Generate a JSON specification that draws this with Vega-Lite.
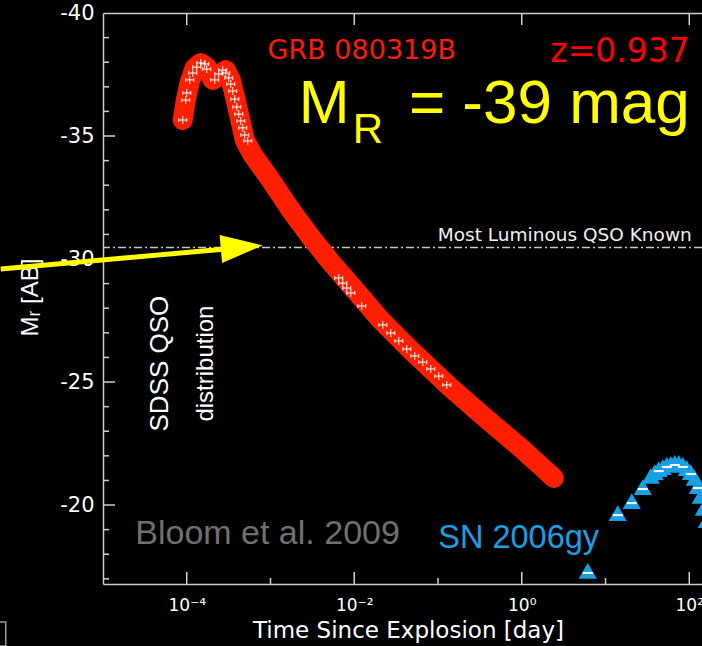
{
  "$schema": "https://vega.github.io/schema/vega-lite/v6.json",
  "width": 599,
  "height": 571,
  "autosize": "none",
  "padding": {"left": 103, "top": 13, "right": 0, "bottom": 62},
  "background": "#000000",
  "config": {"view": {"stroke": null}, "axis": {"grid": false, "labelFlush": false, "labelOverlap": false}},
  "resolve": {"axis": {"x": "independent", "y": "independent"}},
  "layer": [
    {
      "data": {"values": [{"mag": -30.47}]},
      "mark": {"type": "rule", "color": "#c8c8c8", "strokeWidth": 1.5, "strokeDash": [8, 3, 2, 3]},
      "encoding": {"y": {"field": "mag", "type": "quantitative", "scale": {"domain": [-40, -16.79], "reverse": true, "nice": false, "zero": false}, "axis": null}}
    },
    {
      "data": {"values": [
        {"t": 8.96e-5, "mag": -35.65}, {"t": 9.73e-5, "mag": -36.46}, {"t": 1.086e-4, "mag": -37.20},
        {"t": 1.246e-4, "mag": -37.76}, {"t": 1.470e-4, "mag": -37.97}, {"t": 1.733e-4, "mag": -37.80},
        {"t": 2.044e-4, "mag": -37.28}, {"t": 2.411e-4, "mag": -37.48}, {"t": 2.922e-4, "mag": -37.68},
        {"t": 3.353e-4, "mag": -37.28}, {"t": 3.847e-4, "mag": -36.46}, {"t": 4.414e-4, "mag": -35.57},
        {"t": 4.926e-4, "mag": -34.84}, {"t": 6.140e-4, "mag": -34.23}, {"t": 1.007e-3, "mag": -33.21},
        {"t": 1.745e-3, "mag": -31.99}, {"t": 3.024e-3, "mag": -30.89}, {"t": 5.241e-3, "mag": -29.88},
        {"t": 9.082e-3, "mag": -28.94}, {"t": 2.072e-2, "mag": -27.52}, {"t": 4.727e-2, "mag": -26.30},
        {"t": 0.1307, "mag": -24.88}, {"t": 0.3239, "mag": -23.70}, {"t": 0.973, "mag": -22.32},
        {"t": 2.411, "mag": -21.10}
      ]},
      "mark": {"type": "line", "color": "#ff1e00", "strokeWidth": 20, "strokeCap": "round", "strokeJoin": "round"},
      "encoding": {
        "x": {"field": "t", "type": "quantitative", "scale": {"type": "log", "domain": [1e-5, 141.9], "nice": false},
          "axis": {"orient": "bottom", "values": [0.0001, 0.01, 1, 100], "ticks": false,
            "domain": true, "domainColor": "#cccccc", "domainWidth": 1.5,
            "labelExpr": "datum.value < 0.001 ? '10⁻⁴' : datum.value < 0.1 ? '10⁻²' : datum.value < 10 ? '10⁰' : '10²'",
            "labelColor": "#ffffff", "labelFont": "DejaVu Sans", "labelFontSize": 17, "labelPadding": 13,
            "title": "Time Since Explosion [day]", "titleColor": "#ffffff", "titleFont": "DejaVu Sans", "titleFontSize": 23, "titleFontWeight": "normal",
            "titleX": 305, "titleY": 53, "titleAlign": "center", "titleBaseline": "alphabetic"}},
        "y": {"field": "mag", "type": "quantitative", "scale": {"domain": [-40, -16.79], "reverse": true, "nice": false, "zero": false},
          "axis": {"orient": "left", "values": [-40, -35, -30, -25, -20], "ticks": false,
            "domain": true, "domainColor": "#cccccc", "domainWidth": 1.5,
            "labelExpr": "'' + datum.value", "labelColor": "#ffffff", "labelFont": "DejaVu Sans", "labelFontSize": 21, "labelPadding": 9,
            "title": "Mᵣ [AB]", "titleColor": "#ffffff", "titleFont": "Liberation Sans", "titleFontSize": 24, "titleFontWeight": "normal",
            "titleAngle": 270, "titleX": -66, "titleY": 284, "titleAlign": "center", "titleBaseline": "alphabetic"}}
      }
    },
    {
      "data": {"values": [
        {"t": 0.0001, "mag": -16.79}, {"t": 0.01, "mag": -16.79}, {"t": 1, "mag": -16.79}, {"t": 100, "mag": -16.79},
        {"t": 0.0001, "mag": -40}, {"t": 0.01, "mag": -40}, {"t": 1, "mag": -40}, {"t": 100, "mag": -40}
      ]},
      "mark": {"type": "tick", "orient": "vertical", "color": "#d0d0d0", "thickness": 1.5, "size": 24, "opacity": 1, "clip": true},
      "encoding": {
        "x": {"field": "t", "type": "quantitative", "axis": null},
        "y": {"field": "mag", "type": "quantitative", "axis": null}
      }
    },
    {
      "data": {"values": [
        {"t": 0.001, "mag": -16.79}, {"t": 0.1, "mag": -16.79}, {"t": 10, "mag": -16.79}
      ]},
      "mark": {"type": "tick", "orient": "vertical", "color": "#d0d0d0", "thickness": 1.5, "size": 12, "opacity": 1, "clip": true},
      "encoding": {
        "x": {"field": "t", "type": "quantitative", "axis": null},
        "y": {"field": "mag", "type": "quantitative", "axis": null}
      }
    },
    {
      "data": {"values": [
        {"t": 1e-5, "mag": -35}, {"t": 1e-5, "mag": -30}, {"t": 1e-5, "mag": -25}, {"t": 1e-5, "mag": -20}
      ]},
      "mark": {"type": "tick", "orient": "horizontal", "color": "#d0d0d0", "thickness": 1.5, "size": 24, "opacity": 1, "clip": true},
      "encoding": {
        "x": {"field": "t", "type": "quantitative", "axis": null},
        "y": {"field": "mag", "type": "quantitative", "axis": null}
      }
    },
    {
      "data": {"values": [
        {"t": 1e-5, "mag": -39}, {"t": 1e-5, "mag": -38}, {"t": 1e-5, "mag": -37}, {"t": 1e-5, "mag": -36},
        {"t": 1e-5, "mag": -34}, {"t": 1e-5, "mag": -33}, {"t": 1e-5, "mag": -32}, {"t": 1e-5, "mag": -31},
        {"t": 1e-5, "mag": -29}, {"t": 1e-5, "mag": -28}, {"t": 1e-5, "mag": -27}, {"t": 1e-5, "mag": -26},
        {"t": 1e-5, "mag": -24}, {"t": 1e-5, "mag": -23}, {"t": 1e-5, "mag": -22}, {"t": 1e-5, "mag": -21},
        {"t": 1e-5, "mag": -19}, {"t": 1e-5, "mag": -18}, {"t": 1e-5, "mag": -17}
      ]},
      "mark": {"type": "tick", "orient": "horizontal", "color": "#d0d0d0", "thickness": 1.5, "size": 12, "opacity": 1, "clip": true},
      "encoding": {
        "x": {"field": "t", "type": "quantitative", "axis": null},
        "y": {"field": "mag", "type": "quantitative", "axis": null}
      }
    },
    {
      "data": {"values": [
        {"t": 8.96e-5, "mag": -35.65}, {"t": 9.73e-5, "mag": -36.46}, {"t": 1.0e-4, "mag": -36.75},
        {"t": 1.086e-4, "mag": -37.28}, {"t": 1.179e-4, "mag": -37.56}, {"t": 1.316e-4, "mag": -37.80},
        {"t": 1.470e-4, "mag": -37.97}, {"t": 1.640e-4, "mag": -37.93}, {"t": 1.733e-4, "mag": -37.72},
        {"t": 2.159e-4, "mag": -37.28}, {"t": 2.411e-4, "mag": -37.52}, {"t": 2.691e-4, "mag": -37.68},
        {"t": 2.922e-4, "mag": -37.56}, {"t": 3.172e-4, "mag": -37.36}, {"t": 3.353e-4, "mag": -37.11},
        {"t": 3.542e-4, "mag": -36.83}, {"t": 3.742e-4, "mag": -36.50}, {"t": 3.954e-4, "mag": -36.18},
        {"t": 4.178e-4, "mag": -35.89}, {"t": 4.414e-4, "mag": -35.61}, {"t": 4.664e-4, "mag": -35.33},
        {"t": 4.926e-4, "mag": -35.04}, {"t": 5.350e-4, "mag": -34.80},
        {"t": 6.530e-3, "mag": -29.23}, {"t": 7.290e-3, "mag": -29.02}, {"t": 8.136e-3, "mag": -28.82},
        {"t": 9.082e-3, "mag": -28.62}, {"t": 1.229e-2, "mag": -28.09}, {"t": 2.189e-2, "mag": -27.32},
        {"t": 2.728e-2, "mag": -26.99}, {"t": 3.399e-2, "mag": -26.67}, {"t": 4.236e-2, "mag": -26.34},
        {"t": 5.277e-2, "mag": -26.06}, {"t": 6.575e-2, "mag": -25.81}, {"t": 8.192e-2, "mag": -25.53},
        {"t": 0.1021, "mag": -25.24}, {"t": 0.1272, "mag": -24.88}
      ]},
      "mark": {"type": "point", "shape": "M-1,0L1,0M0,-1L0,1M-1,-0.5L-1,0.5M1,-0.5L1,0.5", "filled": false, "stroke": "#ffffff", "strokeWidth": 1, "size": 64, "opacity": 1},
      "encoding": {
        "x": {"field": "t", "type": "quantitative", "axis": null},
        "y": {"field": "mag", "type": "quantitative", "axis": null}
      }
    },
    {
      "data": {"values": [
        {"t": 6.140, "mag": -17.32}, {"t": 14.01, "mag": -19.67}, {"t": 20.58, "mag": -20.16}, {"t": 27.85, "mag": -20.73},
        {"t": 34.70, "mag": -21.18}, {"t": 38.73, "mag": -21.34}, {"t": 43.23, "mag": -21.46}, {"t": 48.27, "mag": -21.54},
        {"t": 53.87, "mag": -21.63}, {"t": 60.13, "mag": -21.67}, {"t": 67.12, "mag": -21.71}, {"t": 74.93, "mag": -21.71},
        {"t": 83.64, "mag": -21.63}, {"t": 93.35, "mag": -21.50}, {"t": 104.2, "mag": -21.34}, {"t": 116.3, "mag": -21.10},
        {"t": 126.4, "mag": -20.77}, {"t": 137.2, "mag": -20.37}, {"t": 148.9, "mag": -19.88}, {"t": 161.8, "mag": -19.39}
      ]},
      "mark": {"type": "point", "shape": "triangle-up", "filled": true, "color": "#18a0e6", "size": 330, "opacity": 1},
      "encoding": {
        "x": {"field": "t", "type": "quantitative", "axis": null},
        "y": {"field": "mag", "type": "quantitative", "axis": null}
      }
    },
    {
      "data": {"values": [
        {"t": 6.140, "mag": -17.32}, {"t": 14.01, "mag": -19.67}, {"t": 20.58, "mag": -20.16}, {"t": 27.85, "mag": -20.73},
        {"t": 43.23, "mag": -21.46}, {"t": 53.87, "mag": -21.63}, {"t": 67.12, "mag": -21.71}, {"t": 83.64, "mag": -21.63},
        {"t": 104.2, "mag": -21.34}, {"t": 126.4, "mag": -20.77}
      ]},
      "mark": {"type": "point", "shape": "stroke", "filled": false, "stroke": "#ffffff", "strokeWidth": 2, "size": 100, "yOffset": 2, "opacity": 1},
      "encoding": {
        "x": {"field": "t", "type": "quantitative",
          "axis": {"orient": "top", "labels": false, "domain": true, "domainColor": "#cccccc", "domainWidth": 1.5, "ticks": false, "title": null}},
        "y": {"field": "mag", "type": "quantitative", "axis": null}
      }
    },
    {
      "data": {"values": [{"t": 6.01e-7, "mag": -29.59, "t2": 2.922e-4, "mag2": -30.41}]},
      "mark": {"type": "rule", "color": "#ffff00", "strokeWidth": 5, "clip": false},
      "encoding": {
        "x": {"field": "t", "type": "quantitative", "axis": null},
        "y": {"field": "mag", "type": "quantitative", "axis": null},
        "x2": {"field": "t2"},
        "y2": {"field": "mag2"}
      }
    },
    {
      "data": {"values": [{"t": 4.536e-4, "mag": -30.48}]},
      "mark": {"type": "point", "shape": "M-1,-0.667L1,0L-1,0.667Z", "filled": true, "color": "#ffff00", "size": 1764, "angle": -5, "opacity": 1, "clip": false},
      "encoding": {
        "x": {"field": "t", "type": "quantitative", "axis": null},
        "y": {"field": "mag", "type": "quantitative", "axis": null}
      }
    },
    {
      "data": {"values": [{"t": 4.961e-7, "mag": -14.76}]},
      "mark": {"type": "point", "shape": "square", "filled": false, "stroke": "#9a9a9a", "strokeWidth": 1.5, "size": 576, "opacity": 1, "clip": false},
      "encoding": {
        "x": {"field": "t", "type": "quantitative", "axis": null},
        "y": {"field": "mag", "type": "quantitative", "axis": null}
      }
    },
    {
      "data": {"values": [{"t": 0.01229, "mag": -38.13, "label": "GRB 080319B"}]},
      "mark": {"type": "text", "font": "DejaVu Sans", "fontSize": 27, "color": "#ff1a0a", "align": "center", "baseline": "alphabetic"},
      "encoding": {"x": {"field": "t", "type": "quantitative", "axis": null}, "y": {"field": "mag", "type": "quantitative", "axis": null}, "text": {"field": "label"}}
    },
    {
      "data": {"values": [{"t": 101.4, "mag": -38.01, "label": "z=0.937"}]},
      "mark": {"type": "text", "font": "DejaVu Sans", "fontSize": 33, "color": "#ff0000", "align": "right", "baseline": "alphabetic"},
      "encoding": {"x": {"field": "t", "type": "quantitative", "axis": null}, "y": {"field": "mag", "type": "quantitative", "axis": null}, "text": {"field": "label"}}
    },
    {
      "data": {"values": [{"t": 2.174e-3, "mag": -35.53, "label": "M"}]},
      "mark": {"type": "text", "font": "Liberation Sans", "fontSize": 61, "color": "#ffff00", "align": "left", "baseline": "alphabetic"},
      "encoding": {"x": {"field": "t", "type": "quantitative", "axis": null}, "y": {"field": "mag", "type": "quantitative", "axis": null}, "text": {"field": "label"}}
    },
    {
      "data": {"values": [{"t": 9.596e-3, "mag": -34.72, "label": "R"}]},
      "mark": {"type": "text", "font": "Liberation Sans", "fontSize": 42, "color": "#ffff00", "align": "left", "baseline": "alphabetic"},
      "encoding": {"x": {"field": "t", "type": "quantitative", "axis": null}, "y": {"field": "mag", "type": "quantitative", "axis": null}, "text": {"field": "label"}}
    },
    {
      "data": {"values": [{"t": 101.4, "mag": -35.53, "label": "= -39 mag"}]},
      "mark": {"type": "text", "font": "Liberation Sans", "fontSize": 62, "color": "#ffff00", "align": "right", "baseline": "alphabetic"},
      "encoding": {"x": {"field": "t", "type": "quantitative", "axis": null}, "y": {"field": "mag", "type": "quantitative", "axis": null}, "text": {"field": "label"}}
    },
    {
      "data": {"values": [{"t": 107.1, "mag": -30.73, "label": "Most Luminous QSO Known"}]},
      "mark": {"type": "text", "font": "DejaVu Sans", "fontSize": 18.5, "color": "#f0f0f0", "align": "right", "baseline": "alphabetic"},
      "encoding": {"x": {"field": "t", "type": "quantitative", "axis": null}, "y": {"field": "mag", "type": "quantitative", "axis": null}, "text": {"field": "label"}}
    },
    {
      "data": {"values": [{"t": 5.931e-5, "mag": -25.75, "label": "SDSS QSO"}]},
      "mark": {"type": "text", "font": "Liberation Sans", "fontSize": 26, "color": "#ffffff", "align": "center", "baseline": "alphabetic", "angle": 270},
      "encoding": {"x": {"field": "t", "type": "quantitative", "axis": null}, "y": {"field": "mag", "type": "quantitative", "axis": null}, "text": {"field": "label"}}
    },
    {
      "data": {"values": [{"t": 2.044e-4, "mag": -25.75, "label": "distribution"}]},
      "mark": {"type": "text", "font": "Liberation Sans", "fontSize": 24, "color": "#ffffff", "align": "center", "baseline": "alphabetic", "angle": 270},
      "encoding": {"x": {"field": "t", "type": "quantitative", "axis": null}, "y": {"field": "mag", "type": "quantitative", "axis": null}, "text": {"field": "label"}}
    },
    {
      "data": {"values": [{"t": 2.427e-5, "mag": -18.41, "label": "Bloom et al. 2009"}]},
      "mark": {"type": "text", "font": "Liberation Sans", "fontSize": 34, "color": "#707070", "align": "left", "baseline": "alphabetic"},
      "encoding": {"x": {"field": "t", "type": "quantitative", "axis": null}, "y": {"field": "mag", "type": "quantitative", "axis": null}, "text": {"field": "label"}}
    },
    {
      "data": {"values": [{"t": 0.1007, "mag": -18.25, "label": "SN 2006gy"}]},
      "mark": {"type": "text", "font": "Liberation Sans", "fontSize": 32.5, "color": "#18a0e6", "align": "left", "baseline": "alphabetic"},
      "encoding": {"x": {"field": "t", "type": "quantitative", "axis": null}, "y": {"field": "mag", "type": "quantitative", "axis": null}, "text": {"field": "label"}}
    }
  ]
}
